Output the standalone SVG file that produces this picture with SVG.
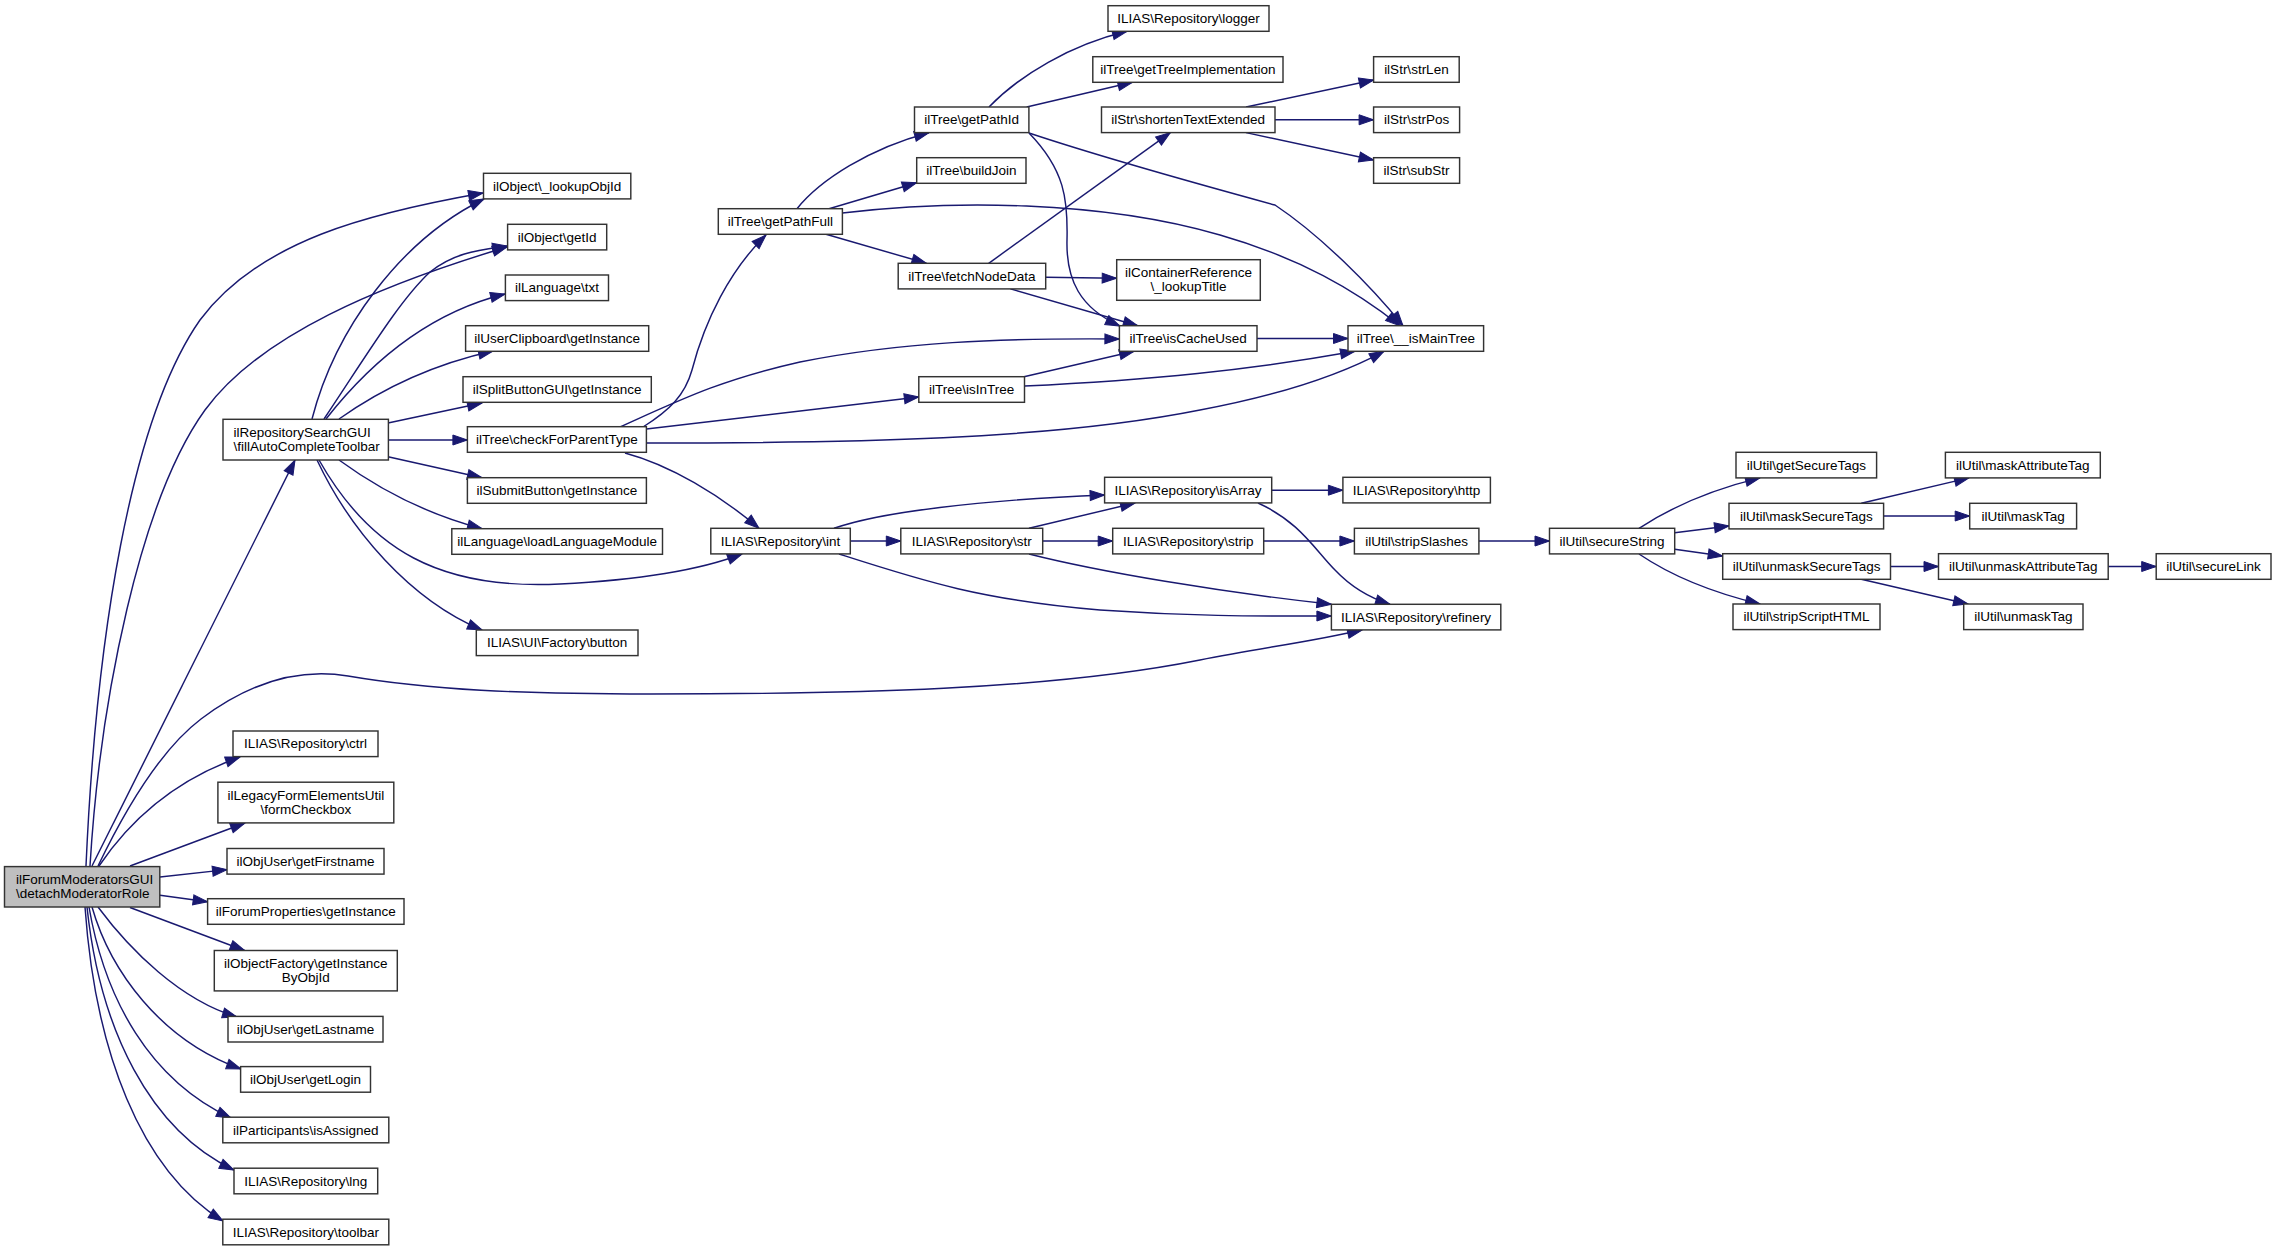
<svg xmlns="http://www.w3.org/2000/svg" width="2276" height="1251" viewBox="0 0 2276 1251">
<style>
.node rect{fill:#ffffff;stroke:#333333;stroke-width:1.45}
.start rect{fill:#bfbfbf}
text{font-family:"Liberation Sans",Arial,Helvetica,sans-serif;font-size:13.5px;fill:#000000;text-anchor:middle}
.l{text-anchor:start}
#edges path{fill:none;stroke:#191970;stroke-width:1.45;marker-end:url(#arr)}
</style>
<defs>
<marker id="arr" markerUnits="userSpaceOnUse" markerWidth="16" markerHeight="12" refX="14.5" refY="5" orient="auto" overflow="visible">
<path d="M0,0 L14.5,5 L0,10 z" fill="#191970" stroke="#191970" stroke-width="1"/>
</marker>
</defs>
<rect width="2276" height="1251" fill="#ffffff"/>
<g id="edges">
<!-- from detachModeratorRole -->
<path d="M86,866 C96,640 130,420 200,320 C260,240 370,213 483,193"/>
<path d="M90,866 C100,700 140,500 205,410 C260,335 380,285 507,247"/>
<path d="M92,866 L295,460"/>
<path d="M98,866 C125,810 160,750 201,719 C250,682 300,668 348,676 C430,690 520,694 650,694 C850,694 1050,690 1200,660 C1260,648 1310,642 1362,630"/>
<path d="M99,866 C130,820 175,780 240,757"/>
<path d="M130,866 L245,823"/>
<path d="M160,877 L227,869.6"/>
<path d="M160,895.3 L207.6,901.8"/>
<path d="M130,907.5 L244.6,950.5"/>
<path d="M98,907 C130,950 180,1000 237,1017"/>
<path d="M92,907 C110,970 160,1040 241,1069"/>
<path d="M89,907 C105,1000 150,1080 231,1118"/>
<path d="M87,907 C100,1030 150,1130 234,1170"/>
<path d="M85,907 C95,1050 140,1170 223,1221"/>
<!-- from fillAutoCompleteToolbar -->
<path d="M312,419 C335,330 400,240 484,199"/>
<path d="M324,419 C370,350 400,300 430,272 C455,252 480,250 507,246"/>
<path d="M326,419 C380,350 440,310 505,294"/>
<path d="M339,419 C380,390 430,365 493,351"/>
<path d="M388,423 L482,403"/>
<path d="M388.4,440 L467.4,440"/>
<path d="M388,456.7 L482,477.7"/>
<path d="M339,460 C380,490 430,515 482,528.7"/>
<path d="M317,460 C350,530 410,600 482,630"/>
<path d="M319,460 C370,550 440,590 560,584 C640,580 700,570 742,554"/>
<!-- from checkForParentType -->
<path d="M643,427 C670,410 685,395 692,370 C705,320 730,270 766,235"/>
<path d="M620,427 C680,400 720,380 800,362 C900,342 1000,338 1119.4,339"/>
<path d="M646.4,429 L918.8,397"/>
<path d="M646.4,443 C850,443 1050,440 1200,410 C1280,395 1340,375 1384,351.3"/>
<path d="M625,453 C670,465 720,495 759,528.3"/>
<!-- from getPathFull -->
<path d="M797,208.7 C820,180 870,148 929,132.7"/>
<path d="M829,208.7 L916.7,182.7"/>
<path d="M826,234.3 L926.4,263.3"/>
<path d="M842.4,213 C950,200 1100,200 1220,235 C1300,258 1355,290 1400,325.7"/>
<!-- from getPathId -->
<path d="M989,107 C1020,75 1070,45 1127,31.3"/>
<path d="M1026.7,107 L1132.4,82.3"/>
<path d="M1029,133 C1065,170 1068,200 1067,240 C1066,280 1080,308 1120,326"/>
<path d="M1029,133 C1110,160 1220,190 1275,205 C1320,235 1370,285 1403,325.7"/>
<!-- from shortenTextExtended -->
<path d="M1246,107 L1373.6,80"/>
<path d="M1275,119.8 L1373.6,119.8"/>
<path d="M1246,132.6 L1373.6,160"/>
<!-- from fetchNodeData -->
<path d="M988.7,263.3 L1170.3,132.6"/>
<path d="M1045.7,277.3 L1116.7,278.3"/>
<path d="M1010.4,288.9 L1137.8,325.7"/>
<!-- isCacheUsed -->
<path d="M1257,338.5 L1348,338.5"/>
<!-- isInTree -->
<path d="M1024,376.7 L1134,351.3"/>
<path d="M1024.5,386 C1150,380 1250,370 1355,351.3"/>
<!-- from int -->
<path d="M834,528.3 C880,512 980,500 1104.6,495"/>
<path d="M850.3,541 L900.8,541"/>
<path d="M839,554 C920,580 980,600 1100,610 C1200,617 1270,616 1331.4,616"/>
<!-- from str -->
<path d="M1029,528.3 L1135,503"/>
<path d="M1042.7,541 L1112.7,541"/>
<path d="M1029,554 C1100,572 1220,592 1331.4,604.3"/>
<!-- from isArray -->
<path d="M1271.7,490.2 L1342.9,490.2"/>
<path d="M1258,503 C1300,522 1315,550 1335,570 C1352,588 1370,598 1390,604.3"/>
<!-- strip, stripSlashes -->
<path d="M1263.7,541 L1354.4,541"/>
<path d="M1478.9,541 L1549.5,541"/>
<!-- from secureString -->
<path d="M1639,528.3 C1670,508 1710,490 1760,477.9"/>
<path d="M1674.7,532.7 L1729,526"/>
<path d="M1674.7,549.3 L1722.7,556"/>
<path d="M1639,554 C1670,575 1710,592 1760,604"/>
<!-- maskSecureTags -->
<path d="M1861.3,503.3 L1969,477.9"/>
<path d="M1883.6,516 L1969.7,516"/>
<!-- unmaskSecureTags -->
<path d="M1890.5,566.5 L1938.5,566.5"/>
<path d="M1861.3,579.3 L1968,604"/>
<!-- unmaskAttributeTag -->
<path d="M2108.2,566.5 L2156.2,566.5"/>
</g>

<g id="n_detachModeratorRole" class="node start"><rect x="4.5" y="866.6" width="155.3" height="40.4"/><text class="l" x="16" y="884">ilForumModeratorsGUI</text><text class="l" x="16" y="898.2">\detachModeratorRole</text></g>
<g id="n_fillAutoCompleteToolbar" class="node"><rect x="223" y="419.3" width="165.4" height="40.7"/><text class="l" x="233.5" y="436.7">ilRepositorySearchGUI</text><text class="l" x="233.5" y="450.9">\fillAutoCompleteToolbar</text></g>
<g id="n_lookupObjId" class="node"><rect x="483.5" y="173.3" width="147.3" height="25.6"/><text x="557.2" y="190.6">ilObject\_lookupObjId</text></g>
<g id="n_getId" class="node"><rect x="507.6" y="224.3" width="99.1" height="25.6"/><text x="557.2" y="241.6">ilObject\getId</text></g>
<g id="n_txt" class="node"><rect x="505.4" y="275" width="103.1" height="25.6"/><text x="557" y="292.3">ilLanguage\txt</text></g>
<g id="n_clipboard" class="node"><rect x="465.6" y="325.7" width="183.1" height="25.6"/><text x="557.2" y="343">ilUserClipboard\getInstance</text></g>
<g id="n_splitbutton" class="node"><rect x="463" y="376.7" width="188.3" height="25.6"/><text x="557.2" y="394">ilSplitButtonGUI\getInstance</text></g>
<g id="n_checkForParentType" class="node"><rect x="467.4" y="426.7" width="179" height="25.6"/><text x="556.9" y="444">ilTree\checkForParentType</text></g>
<g id="n_submitbutton" class="node"><rect x="467.4" y="477.7" width="179" height="25.6"/><text x="556.9" y="495">ilSubmitButton\getInstance</text></g>
<g id="n_loadLanguageModule" class="node"><rect x="451.8" y="528.7" width="210.7" height="25.6"/><text x="557.2" y="546">ilLanguage\loadLanguageModule</text></g>
<g id="n_button" class="node"><rect x="476.3" y="630" width="161.7" height="25.6"/><text x="557.2" y="647.3">ILIAS\UI\Factory\button</text></g>
<g id="n_ctrl" class="node"><rect x="233" y="731" width="145" height="25.6"/><text x="305.5" y="748.3">ILIAS\Repository\ctrl</text></g>
<g id="n_formCheckbox" class="node"><rect x="217.9" y="782.2" width="175.9" height="40.7"/><text x="305.8" y="799.6">ilLegacyFormElementsUtil</text><text x="305.8" y="813.7">\formCheckbox</text></g>
<g id="n_getFirstname" class="node"><rect x="227" y="848.5" width="157" height="25.6"/><text x="305.5" y="865.8">ilObjUser\getFirstname</text></g>
<g id="n_forumProperties" class="node"><rect x="207.6" y="898.7" width="196.4" height="25.6"/><text x="305.8" y="916">ilForumProperties\getInstance</text></g>
<g id="n_objectFactory" class="node"><rect x="214.3" y="950.5" width="183" height="40.4"/><text x="305.8" y="967.9">ilObjectFactory\getInstance</text><text x="305.8" y="982">ByObjId</text></g>
<g id="n_getLastname" class="node"><rect x="228" y="1016.4" width="155" height="25.6"/><text x="305.5" y="1033.7">ilObjUser\getLastname</text></g>
<g id="n_getLogin" class="node"><rect x="240.6" y="1066.6" width="129.9" height="25.6"/><text x="305.5" y="1083.9">ilObjUser\getLogin</text></g>
<g id="n_isAssigned" class="node"><rect x="222.8" y="1117.2" width="166" height="25.6"/><text x="305.8" y="1134.5">ilParticipants\isAssigned</text></g>
<g id="n_lng" class="node"><rect x="234" y="1168.2" width="143.7" height="25.6"/><text x="305.8" y="1185.5">ILIAS\Repository\lng</text></g>
<g id="n_toolbar" class="node"><rect x="222.8" y="1219.2" width="166" height="25.6"/><text x="305.8" y="1236.5">ILIAS\Repository\toolbar</text></g>
<g id="n_logger" class="node"><rect x="1108" y="5.7" width="161" height="25.6"/><text x="1188.5" y="23">ILIAS\Repository\logger</text></g>
<g id="n_getTreeImplementation" class="node"><rect x="1092.8" y="56.7" width="190.2" height="25.6"/><text x="1187.9" y="74">ilTree\getTreeImplementation</text></g>
<g id="n_strLen" class="node"><rect x="1373.6" y="56.7" width="85.6" height="25.6"/><text x="1416.4" y="74">ilStr\strLen</text></g>
<g id="n_getPathId" class="node"><rect x="914.5" y="107" width="114.4" height="25.6"/><text x="971.7" y="124.3">ilTree\getPathId</text></g>
<g id="n_shortenTextExtended" class="node"><rect x="1101.5" y="107" width="173.5" height="25.6"/><text x="1188.2" y="124.3">ilStr\shortenTextExtended</text></g>
<g id="n_strPos" class="node"><rect x="1373.6" y="107" width="86" height="25.6"/><text x="1416.6" y="124.3">ilStr\strPos</text></g>
<g id="n_buildJoin" class="node"><rect x="916.7" y="157.7" width="109.3" height="25.6"/><text x="971.3" y="175">ilTree\buildJoin</text></g>
<g id="n_subStr" class="node"><rect x="1373.6" y="157.7" width="86" height="25.6"/><text x="1416.6" y="175">ilStr\subStr</text></g>
<g id="n_getPathFull" class="node"><rect x="718.3" y="208.7" width="124.1" height="25.6"/><text x="780.3" y="226">ilTree\getPathFull</text></g>
<g id="n_fetchNodeData" class="node"><rect x="898.2" y="263.3" width="147.5" height="25.6"/><text x="971.9" y="280.6">ilTree\fetchNodeData</text></g>
<g id="n_lookupTitle" class="node"><rect x="1116.7" y="259.7" width="143.6" height="40.6"/><text x="1188.5" y="277.1">ilContainerReference</text><text x="1188.5" y="291.2">\_lookupTitle</text></g>
<g id="n_isCacheUsed" class="node"><rect x="1119.4" y="325.7" width="137.6" height="25.6"/><text x="1188.2" y="343">ilTree\isCacheUsed</text></g>
<g id="n_isMainTree" class="node"><rect x="1348" y="325.7" width="135.6" height="25.6"/><text x="1415.8" y="343">ilTree\__isMainTree</text></g>
<g id="n_isInTree" class="node"><rect x="918.8" y="376.7" width="105.7" height="25.6"/><text x="971.6" y="394">ilTree\isInTree</text></g>
<g id="n_isArray" class="node"><rect x="1104.6" y="477.3" width="167.1" height="25.6"/><text x="1188.1" y="494.6">ILIAS\Repository\isArray</text></g>
<g id="n_http" class="node"><rect x="1342.9" y="477.3" width="147.5" height="25.6"/><text x="1416.6" y="494.6">ILIAS\Repository\http</text></g>
<g id="n_int" class="node"><rect x="710.8" y="528.3" width="139.5" height="25.6"/><text x="780.5" y="545.6">ILIAS\Repository\int</text></g>
<g id="n_str" class="node"><rect x="900.8" y="528.3" width="141.9" height="25.6"/><text x="971.7" y="545.6">ILIAS\Repository\str</text></g>
<g id="n_strip" class="node"><rect x="1112.7" y="528.3" width="151" height="25.6"/><text x="1188.2" y="545.6">ILIAS\Repository\strip</text></g>
<g id="n_stripSlashes" class="node"><rect x="1354.4" y="528.3" width="124.5" height="25.6"/><text x="1416.6" y="545.6">ilUtil\stripSlashes</text></g>
<g id="n_refinery" class="node"><rect x="1331.4" y="604.3" width="169.4" height="25.6"/><text x="1416.1" y="621.6">ILIAS\Repository\refinery</text></g>
<g id="n_getSecureTags" class="node"><rect x="1736" y="452.3" width="140.6" height="25.6"/><text x="1806.3" y="469.6">ilUtil\getSecureTags</text></g>
<g id="n_maskAttributeTag" class="node"><rect x="1945.4" y="452.3" width="154.9" height="25.6"/><text x="2022.8" y="469.6">ilUtil\maskAttributeTag</text></g>
<g id="n_maskSecureTags" class="node"><rect x="1729" y="503.3" width="154.6" height="25.6"/><text x="1806.3" y="520.6">ilUtil\maskSecureTags</text></g>
<g id="n_maskTag" class="node"><rect x="1969.7" y="503.3" width="106.9" height="25.6"/><text x="2023.1" y="520.6">ilUtil\maskTag</text></g>
<g id="n_secureString" class="node"><rect x="1549.5" y="528.3" width="125.2" height="25.6"/><text x="1612.1" y="545.6">ilUtil\secureString</text></g>
<g id="n_unmaskSecureTags" class="node"><rect x="1722.7" y="553.7" width="167.8" height="25.6"/><text x="1806.6" y="571">ilUtil\unmaskSecureTags</text></g>
<g id="n_unmaskAttributeTag" class="node"><rect x="1938.5" y="553.7" width="169.7" height="25.6"/><text x="2023.3" y="571">ilUtil\unmaskAttributeTag</text></g>
<g id="n_secureLink" class="node"><rect x="2156.2" y="553.7" width="114.8" height="25.6"/><text x="2213.6" y="571">ilUtil\secureLink</text></g>
<g id="n_stripScriptHTML" class="node"><rect x="1733" y="604" width="147" height="25.6"/><text x="1806.5" y="621.3">ilUtil\stripScriptHTML</text></g>
<g id="n_unmaskTag" class="node"><rect x="1963.7" y="604" width="119.3" height="25.6"/><text x="2023.3" y="621.3">ilUtil\unmaskTag</text></g>
</svg>
